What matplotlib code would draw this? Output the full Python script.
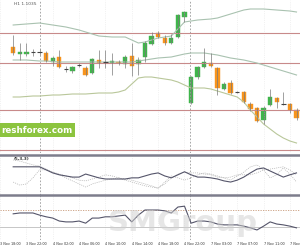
import matplotlib
matplotlib.use("Agg")
import matplotlib.pyplot as plt
import numpy as np

# H1 candles, 3 Nov 18:00 .. 7 Nov
opens = [1.1006, 1.0992, 1.0993, 1.0996, 1.0996, 1.0994, 1.0976, 1.0986, 1.0962, 1.0958,
         1.0970, 1.0964, 1.0954, 1.0980, 1.0976, 1.0974, 1.0977, 1.0972, 1.0988, 1.0972,
         1.0986, 1.1012, 1.1034, 1.1024, 1.1014, 1.1026, 1.1066, 1.0894, 1.0946, 1.0966,
         1.0974, 1.0964, 1.0922, 1.0934, 1.0916, 1.0916, 1.0892, 1.0884, 1.0860, 1.0890,
         1.0904, 1.0892, 1.0892, 1.0880]
highs = [1.1030, 1.1014, 1.1014, 1.1002, 1.1002, 1.0998, 1.0988, 1.1000, 1.0968, 1.0968,
         1.0974, 1.0968, 1.0984, 1.1000, 1.1000, 1.0994, 1.0980, 1.0990, 1.1014, 1.0986,
         1.1018, 1.1036, 1.1038, 1.1030, 1.1032, 1.1072, 1.1078, 1.0948, 1.0968, 1.1004,
         1.0994, 1.0966, 1.0936, 1.0940, 1.0918, 1.0918, 1.0896, 1.0886, 1.0888, 1.0922,
         1.0906, 1.0916, 1.0894, 1.0884]
lows = [1.0990, 1.0980, 1.0988, 1.0988, 1.0990, 1.0976, 1.0968, 1.0964, 1.0956, 1.0954,
        1.0966, 1.0948, 1.0952, 1.0964, 1.0964, 1.0950, 1.0970, 1.0964, 1.0948, 1.0950,
        1.0976, 1.1010, 1.1024, 1.1010, 1.1012, 1.1024, 1.1056, 1.0892, 1.0942, 1.0964,
        1.0966, 1.0910, 1.0920, 1.0912, 1.0914, 1.0894, 1.0878, 1.0856, 1.0852, 1.0888,
        1.0884, 1.0890, 1.0874, 1.0860]
closes = [1.0994, 1.0996, 1.0996, 1.0995, 1.0995, 1.0978, 1.0984, 1.0966, 1.0960, 1.0966,
          1.0968, 1.0950, 1.0982, 1.0974, 1.0975, 1.0978, 1.0974, 1.0986, 1.0968, 1.0980,
          1.1014, 1.1028, 1.1026, 1.1014, 1.1024, 1.1070, 1.1076, 1.0946, 1.0966, 1.0976,
          1.0968, 1.0924, 1.0932, 1.0914, 1.0915, 1.0896, 1.0882, 1.0858, 1.0884, 1.0906,
          1.0896, 1.0891, 1.0880, 1.0864]

# Bollinger bands
bb_upper = [1.1050, 1.1051, 1.1052, 1.1053, 1.1054, 1.1052, 1.1050, 1.1048, 1.1046, 1.1043,
            1.1040, 1.1036, 1.1032, 1.1028, 1.1027, 1.1026, 1.1026, 1.1026, 1.1020, 1.1014,
            1.1016, 1.1020, 1.1024, 1.1026, 1.1028, 1.1042, 1.1056, 1.1058, 1.1060, 1.1061,
            1.1062, 1.1064, 1.1068, 1.1072, 1.1076, 1.1080, 1.1082, 1.1082, 1.1082, 1.1081,
            1.1080, 1.1079, 1.1078, 1.1076]
bb_mid = [1.0980, 1.0980, 1.0980, 1.0979, 1.0978, 1.0978, 1.0977, 1.0976, 1.0976, 1.0976,
          1.0976, 1.0976, 1.0976, 1.0976, 1.0976, 1.0976, 1.0976, 1.0976, 1.0976, 1.0978,
          1.0980, 1.0982, 1.0984, 1.0985, 1.0986, 1.0989, 1.0992, 1.0994, 1.0994, 1.0994,
          1.0992, 1.0990, 1.0987, 1.0984, 1.0982, 1.0980, 1.0977, 1.0974, 1.0970, 1.0966,
          1.0962, 1.0958, 1.0954, 1.0950]
bb_lower = [1.0906, 1.0906, 1.0907, 1.0908, 1.0908, 1.0909, 1.0910, 1.0910, 1.0911, 1.0912,
            1.0912, 1.0912, 1.0913, 1.0914, 1.0914, 1.0914, 1.0916, 1.0920, 1.0932, 1.0944,
            1.0946, 1.0946, 1.0944, 1.0942, 1.0940, 1.0936, 1.0930, 1.0924, 1.0924, 1.0924,
            1.0922, 1.0918, 1.0914, 1.0910, 1.0906, 1.0896, 1.0880, 1.0866, 1.0852, 1.0842,
            1.0832, 1.0824, 1.0818, 1.0814]

levels = [1.1034, 1.0974, 1.0880, 1.0800]

# stochastic
stoch_main = [74, 74, 74, 74, 74, 66, 58, 53, 50, 47, 47, 55, 50, 45, 42, 42, 42, 42, 45, 45,
              50, 55, 58, 50, 45, 53, 61, 53, 47, 47, 45, 42, 37, 34, 39, 47, 58, 68, 71, 63,
              55, 47, 53, 58]
stoch_a = [92, 89, 84, 79, 76, 68, 60, 53, 45, 37, 29, 21, 29, 34, 39, 42, 45, 42, 39, 34,
           29, 24, 18, 34, 50, 45, 39, 45, 53, 58, 55, 50, 45, 39, 50, 60, 74, 79, 66, 45,
           53, 71, 55, 34]
stoch_b = [34, 26, 29, 45, 66, 66, 60, 55, 50, 45, 39, 37, 42, 47, 53, 50, 45, 39, 34, 29,
           24, 21, 18, 29, 45, 55, 60, 58, 58, 55, 53, 47, 45, 47, 53, 53, 53, 58, 66, 68,
           71, 74, 66, 53]

# RSI
rsi = [61, 63, 63, 63, 58, 54, 51, 44, 42, 42, 44, 39, 51, 51, 54, 54, 56, 58, 42, 58,
       70, 70, 70, 68, 63, 77, 79, 39, 44, 44, 42, 37, 35, 35, 35, 32, 28, 23, 32, 42,
       37, 35, 32, 28]

time_labels = ["3 Nov 18:00", "3 Nov 22:00", "4 Nov 02:00", "4 Nov 06:00", "4 Nov 10:00",
               "4 Nov 14:00", "4 Nov 18:00", "4 Nov 22:00", "7 Nov 03:00", "7 Nov 07:00",
               "7 Nov 11:00", "7 Nov 15:00"]

n = len(opens)
x = np.arange(n)
o = np.array(opens); c = np.array(closes)
h = np.array(highs); l = np.array(lows)

fig = plt.figure(figsize=(3, 2.5), dpi=100)
ax = fig.add_axes([0, 0.388, 1, 0.612])
ax1 = fig.add_axes([0, 0.22, 1, 0.16])
ax2 = fig.add_axes([0, 0.04, 1, 0.18])

xlim = (-0.07, 43.53)
tick_pos = [4 * k + 2 for k in range(-1, 11)]
for a in (ax, ax1, ax2):
    a.set_xlim(*xlim)
    a.set_facecolor("white")
    for s in a.spines.values():
        s.set_visible(False)
    a.set_yticks([])
    a.set_xticks(tick_pos)
    a.tick_params(length=0, labelbottom=False)
    a.grid(axis="x", color="#e6e6e6", lw=0.5, ls=":")
    a.axvline(4, color="#999999", lw=0.6, ls=(0, (2, 2)))
    a.axvline(26.9, color="#999999", lw=0.6, ls=(0, (2, 2)))

# main price panel
ax.set_ylim(1.0794, 1.1100)
for lv in levels:
    ax.axhline(lv, color="#c88a8a", lw=0.8)
ax.plot(x, bb_upper, color="#a9c2b0", lw=0.8)
ax.plot(x, bb_mid, color="#a9c2b0", lw=0.8)
ax.plot(x, bb_lower, color="#b9c79a", lw=0.8)

up = c >= o
doji = np.abs(c - o) < 0.00025
ax.vlines(x, l, h, color="#7a7a7a", lw=0.5)
body_col = np.where(up, "#3fb54b", "#f7941d")
for i in range(n):
    if doji[i]:
        ax.hlines(o[i], i - 0.33, i + 0.33, color="#444444", lw=0.8)
    else:
        ax.bar(i, abs(c[i] - o[i]), bottom=min(o[i], c[i]), width=0.66,
               color=body_col[i], edgecolor=body_col[i], lw=0.3)

ax.text(0.05, 1.1097, "H1 1.1035", fontsize=3.2, color="#555555",
        ha="left", va="top")
ax.text(0.005, 0.15, "reshforex.com", transform=ax.transAxes, fontsize=6.3, color="white",
        ha="left", va="center", fontweight="bold",
        bbox=dict(boxstyle="square,pad=0.3", fc="#8cc43f", ec="none"))

# stochastic panel
ax1.set_ylim(0, 105)
ax1.spines["top"].set_visible(True)
ax1.spines["top"].set_color("#7d7d8c")
ax1.spines["top"].set_linewidth(1.8)
ax1.plot(x, stoch_a, color="#b0b0b0", lw=0.5, ls=(0, (1.5, 1.5)))
ax1.plot(x, stoch_b, color="#b0b0b0", lw=0.5, ls=(0, (1.5, 1.5)))
ax1.plot(x, stoch_main, color="#55556a", lw=0.8)
ax1.text(0.05, 100, "(5,3,3)", fontsize=3, color="#333333", ha="left", va="top",
         fontweight="bold")

# RSI panel
ax2.set_ylim(-0.6, 105.3)
ax2.spines["top"].set_visible(True)
ax2.spines["top"].set_color("#7d7d8c")
ax2.spines["top"].set_linewidth(1.8)
ax2.axhline(70, color="#c89a7a", lw=0.6, ls=(0, (1.5, 1.5)))
ax2.axhline(30, color="#bdbdbd", lw=0.6)
ax2.text(0.61, 0.38, "SMGroup", transform=ax2.transAxes, fontsize=21, color="#cfcfcf",
         alpha=0.5, ha="center", va="center", fontweight="bold")
ax2.plot(x, rsi, color="#55556a", lw=0.8)

ax2.tick_params(labelbottom=True, pad=1.5, labelsize=2.4, labelcolor="#333333")
ax2.set_xticklabels(time_labels, ha="left")

fig.savefig("out.png", dpi=100)
